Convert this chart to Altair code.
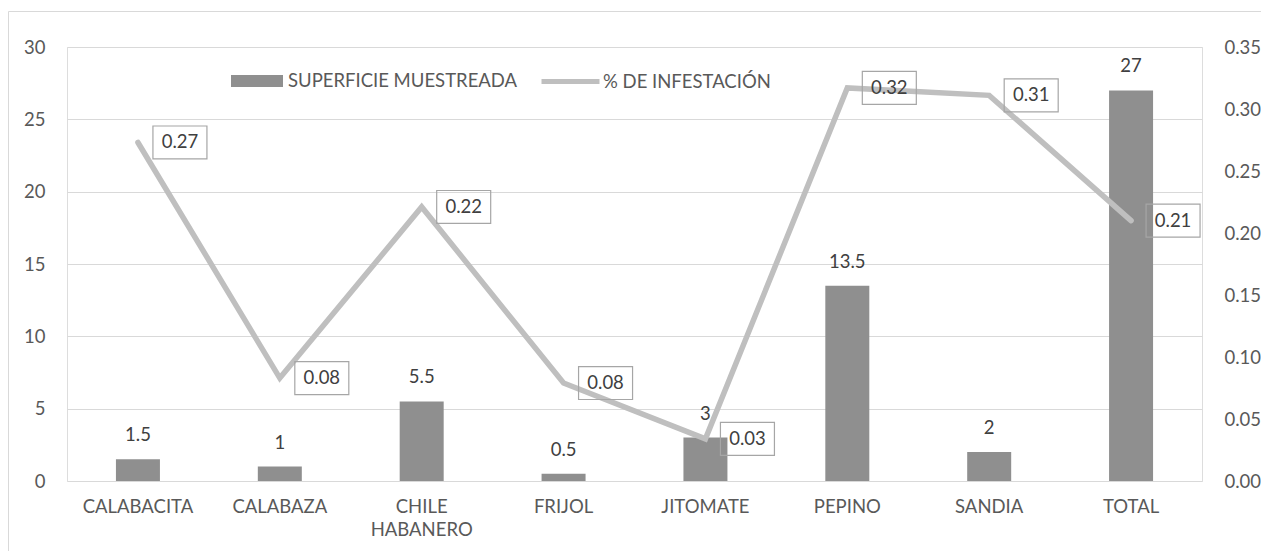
import altair as alt
import pandas as pd

categorias = ["CALABACITA", "CALABAZA", "CHILE HABANERO", "FRIJOL",
              "JITOMATE", "PEPINO", "SANDIA", "TOTAL"]
superficie = [1.5, 1, 5.5, 0.5, 3, 13.5, 2, 27]
infestacion = [0.273, 0.083, 0.221, 0.079, 0.034, 0.317, 0.311, 0.21]
serie_barras = "SUPERFICIE MUESTREADA"
serie_linea = "% DE INFESTACIÓN"
ticks_izq = [0, 5, 10, 15, 20, 25, 30]
ticks_der = [0, 0.05, 0.10, 0.15, 0.20, 0.25, 0.30, 0.35]

df = pd.DataFrame({
    "cat": categorias,
    "sup": superficie,
    "inf": infestacion,
    "sb": [serie_barras] * len(categorias),
    "sl": [serie_linea] * len(categorias),
})

W, H = 1135, 434
FONT = "Lato"
FS = 18.5
AX = "#595959"
TX = "#404040"

x = alt.X("cat:N", sort=categorias,
          scale=alt.Scale(paddingInner=0, paddingOuter=0),
          axis=alt.Axis(title=None, labelAngle=0, domain=False, ticks=False,
                        labelPadding=16, labelFontSize=FS, labelColor=AX,
                        labelFont=FONT, labelLineHeight=23,
                        labelExpr="split(datum.value, ' ')"))

y_izq = alt.Y("sup:Q", scale=alt.Scale(domain=[0, 30], nice=False),
              axis=alt.Axis(title=None, values=ticks_izq, grid=True,
                            gridColor="#d9d9d9", domain=False, ticks=False,
                            labelPadding=22, labelFontSize=FS, labelColor=AX,
                            labelFont=FONT))

y_der = alt.Y("inf:Q", scale=alt.Scale(domain=[0, 0.35], nice=False),
              axis=alt.Axis(title=None, orient="right", values=ticks_der,
                            format=".2f", grid=False, domain=False, ticks=False,
                            labelPadding=22, labelFontSize=FS, labelColor=AX,
                            labelFont=FONT))

base = alt.Chart(df)

marco = base.mark_rect(fill=None, stroke="#d9d9d9", strokeWidth=1).encode(
    x=alt.value(-58.5), x2=alt.value(W + 100),
    y=alt.value(-35.5), y2=alt.value(H + 120)
).transform_filter("datum.cat == 'TOTAL'")

barras = base.mark_bar(size=44).encode(
    x=x, y=y_izq,
    color=alt.Color("sb:N",
                    scale=alt.Scale(domain=[serie_barras], range=["#8f8f8f"]),
                    legend=alt.Legend(title=None, orient="none",
                                      legendX=164, legendY=8,
                                      symbolType="M-1,-0.23L1,-0.23L1,0.23L-1,0.23Z",
                                      symbolSize=2704, symbolStrokeWidth=0,
                                      labelOffset=5, labelFontSize=FS,
                                      labelLimit=400,
                                      labelColor=AX, labelFont=FONT)),
)

et_barras = base.mark_text(dy=-24, fontSize=FS, font=FONT, color=TX).encode(
    x=x, y=y_izq, text=alt.Text("sup:Q", format="~g"))

linea = base.mark_line(strokeWidth=5.5, strokeCap="round").encode(
    x=x, y=y_der,
    stroke=alt.Stroke("sl:N",
                      scale=alt.Scale(domain=[serie_linea], range=["#bfbfbf"]),
                      legend=alt.Legend(title=None, orient="none",
                                        legendX=472, legendY=3,
                                        symbolType="stroke", symbolSize=3364,
                                        symbolStrokeWidth=5,
                                        labelOffset=1, labelFontSize=FS,
                                        labelLimit=400,
                                        labelColor=AX, labelFont=FONT)),
)

cajas = base.mark_point(
    shape="M-1,-0.61L1,-0.61L1,0.61L-1,0.61Z", size=2916, filled=False,
    color="#a6a6a6", strokeWidth=1.2, xOffset=42, opacity=1
).encode(x=x, y=y_der)

et_linea = base.mark_text(dx=42, fontSize=FS, font=FONT, color=TX).encode(
    x=x, y=y_der, text=alt.Text("inf:Q", format=".2f"))

capa_izq = alt.layer(marco, barras, et_barras)
capa_der = alt.layer(linea, cajas, et_linea)

chart = alt.layer(capa_izq, capa_der).resolve_scale(y="independent").properties(
    width=W, height=H,
    autosize=alt.AutoSizeParams(type="none"),
    padding={"left": 59, "top": 39, "right": 59, "bottom": 70},
).configure_view(stroke=None).configure(background="white")

chart.save("out.html", embed_options={"renderer": "svg", "actions": False})
